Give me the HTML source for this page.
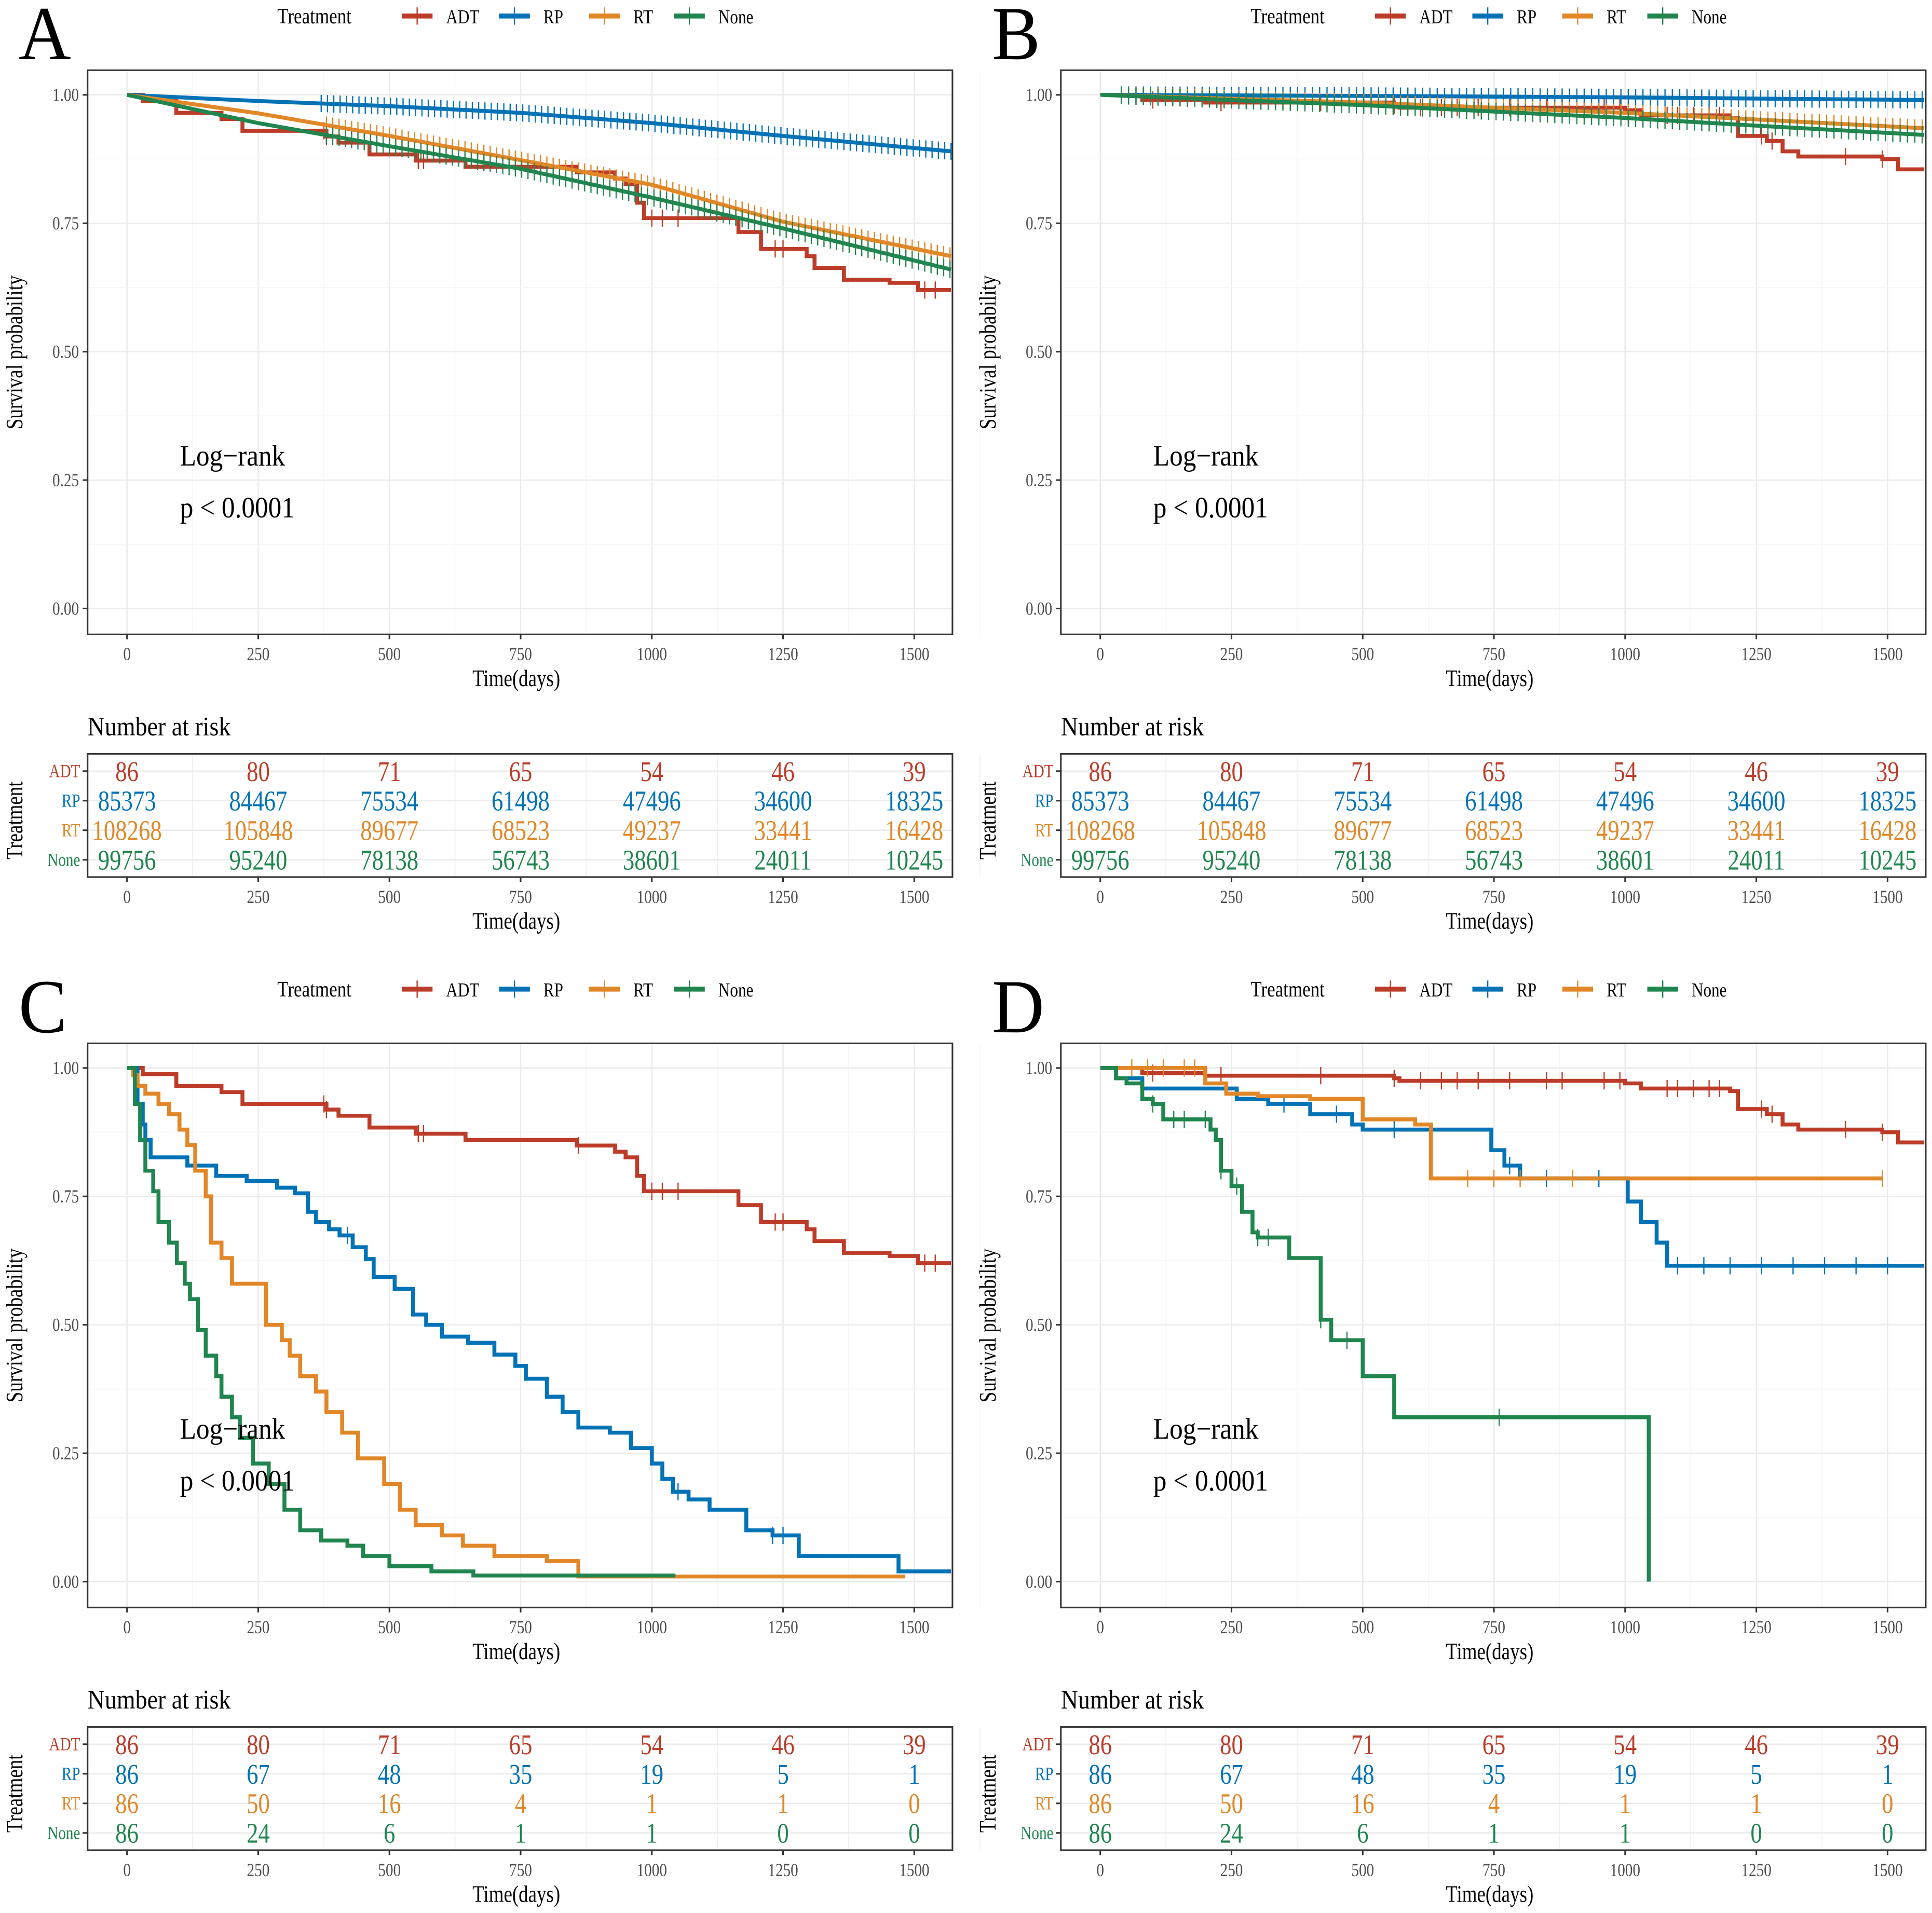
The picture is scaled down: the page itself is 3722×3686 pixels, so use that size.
<!DOCTYPE html>
<html><head><meta charset="utf-8"><style>
html,body{margin:0;padding:0;background:#fff}
svg{display:block}
text{font-family:"Liberation Serif",serif}
</style></head><body>
<svg id="fig" width="3722" height="3686" viewBox="0 0 1568 1553" xmlns="http://www.w3.org/2000/svg"></svg>
<script>
const COLORS={ADT:'#BC3C29',RP:'#0072B5',RT:'#E18727',None:'#20854E'};
const GROUPS=['ADT','RP','RT','None'];
const xTicks=[0,250,500,750,1000,1250,1500];
const yTicks=[0,0.25,0.5,0.75,1];
const yTickLabels=['0.00','0.25','0.50','0.75','1.00'];

// Panel A curves
const A_ADT_t=[0,30,94,180,220,380,403,462,550,645,857,930,950,972,985,1165,1208,1295,1310,1366,1453,1507,1570];
const A_ADT_s=[1,0.988,0.965,0.953,0.93,0.919,0.907,0.884,0.872,0.86,0.849,0.837,0.826,0.79,0.76,0.733,0.70,0.686,0.663,0.64,0.634,0.62,0.62];
const A_RP_t=[0,250,500,750,1000,1250,1570];
const A_RP_s=[1,0.988,0.978,0.965,0.945,0.92,0.89];
const A_RT_t=[0,250,500,750,1000,1250,1570];
const A_RT_s=[1,0.964,0.92,0.873,0.825,0.753,0.686];
const A_None_t=[0,250,500,750,1000,1250,1570];
const A_None_s=[1,0.945,0.90,0.856,0.80,0.74,0.66];
// Panel B curves
const B_ADT_t=[0,80,200,560,570,1000,1030,1200,1215,1270,1300,1330,1490,1520,1570];
const B_ADT_s=[1,0.99,0.985,0.98,0.975,0.97,0.96,0.955,0.92,0.91,0.89,0.88,0.875,0.855,0.855];
const B_RP_t=[0,500,1000,1570];
const B_RP_s=[1,0.998,0.995,0.99];
const B_RT_t=[0,500,1000,1250,1570];
const B_RT_s=[1,0.985,0.965,0.952,0.935];
const B_None_t=[0,500,1000,1250,1570];
const B_None_s=[1,0.98,0.955,0.94,0.922];
// Panel C curves
const C_RP_t=[0,20,30,35,45,115,170,228,286,320,345,360,385,405,430,455,470,510,545,570,600,650,700,740,760,800,830,860,920,960,1000,1020,1040,1070,1110,1180,1230,1280,1470,1570];
const C_RP_s=[1,0.93,0.89,0.86,0.826,0.81,0.79,0.78,0.767,0.756,0.72,0.70,0.686,0.674,0.651,0.628,0.593,0.57,0.52,0.50,0.477,0.465,0.442,0.42,0.395,0.36,0.33,0.30,0.29,0.26,0.23,0.20,0.175,0.16,0.14,0.10,0.09,0.05,0.02,0.02];
const C_RT_t=[0,12,20,35,60,80,100,115,130,150,160,180,200,230,265,295,310,330,360,380,410,440,490,520,550,600,640,700,800,860,1483];
const C_RT_s=[1,0.986,0.965,0.95,0.93,0.91,0.88,0.85,0.80,0.75,0.66,0.63,0.58,0.58,0.50,0.47,0.44,0.40,0.37,0.33,0.29,0.24,0.19,0.14,0.11,0.09,0.07,0.05,0.04,0.01,0.01];
const C_None_t=[0,15,25,35,50,60,80,95,110,120,135,150,170,180,200,215,240,270,300,330,370,420,450,500,580,660,1045];
const C_None_s=[1,0.93,0.86,0.80,0.76,0.70,0.66,0.62,0.58,0.55,0.49,0.44,0.40,0.36,0.32,0.28,0.23,0.19,0.14,0.10,0.08,0.07,0.05,0.03,0.02,0.012,0.012];
// Panel D curves
const D_RP_t=[0,30,80,260,320,400,480,500,745,770,800,1005,1030,1060,1080,1570];
const D_RP_s=[1,0.98,0.96,0.94,0.93,0.91,0.89,0.88,0.84,0.81,0.785,0.74,0.70,0.66,0.615,0.615];
const D_RT_t=[0,200,240,300,400,500,600,630,1490];
const D_RT_s=[1,0.97,0.95,0.945,0.94,0.90,0.89,0.785,0.785];
const D_None_t=[0,30,50,80,100,120,210,220,230,250,270,290,300,360,420,440,500,560,1045,1045];
const D_None_s=[1,0.98,0.97,0.94,0.93,0.90,0.88,0.86,0.80,0.77,0.72,0.68,0.67,0.63,0.51,0.47,0.40,0.32,0.32,0];

// censor tick times
const C_ADT_c=[375,380,555,565,860,1000,1020,1050,1235,1250,1520,1540];
const C_RP_c=[420,1050,1230,1250];
const D_ADT_c=[100,230,420,560,610,650,680,720,780,850,880,960,990,1080,1100,1130,1160,1180,1260,1280,1420,1490];
const D_RP_c=[350,450,560,780,850,900,950,1100,1150,1200,1260,1320,1380,1440,1500];
const D_RT_c=[60,90,120,160,180,700,750,800,900,1490];
const D_None_c=[100,140,160,200,230,260,300,320,420,470,760];
// dense censoring windows [start,end,spacing] for large-cohort panels
const A_RP_cr=[370,1570,12];
const A_RT_cr=[380,1570,12];
const A_None_cr=[380,1570,12];
const B_RP_cr=[40,1570,14];
const B_RT_cr=[40,1570,14];
const B_None_cr=[40,1570,14];

const riskAB={ADT:['86','80','71','65','54','46','39'],RP:['85373','84467','75534','61498','47496','34600','18325'],RT:['108268','105848','89677','68523','49237','33441','16428'],None:['99756','95240','78138','56743','38601','24011','10245']};
const riskCD={ADT:['86','80','71','65','54','46','39'],RP:['86','67','48','35','19','5','1'],RT:['86','50','16','4','1','1','0'],None:['86','24','6','1','1','0','0']};

const svg=document.getElementById('fig');
const NS='http://www.w3.org/2000/svg';
function el(tag,attrs,parent){const e=document.createElementNS(NS,tag);for(const k in attrs)e.setAttribute(k,attrs[k]);(parent||svg).appendChild(e);return e;}
function txt(x,y,s,size,fill,anchor,parent,sx){const g=el('g',{transform:`translate(${x},${y}) scale(${sx||0.82},1)`},parent);const t=el('text',{x:0,y:0,'font-size':size,fill:fill,'text-anchor':anchor||'start'},g);t.textContent=s;return t;}

function panel(ox,oy,letter,curves,censor,ranges,risk){
  const g=el('g',{transform:`translate(${ox},${oy})`});
  
  
  const L=71,R=773,T=57,B=515;
  const xs=t=>103+t*639/1500;
  const ys=s=>494-s*417;
  // letter
  const lt=txt(15,48,letter,62,'#000','start',g,0.95);
  
  
  // legend
  const lg=el('g',{},g);
  
  
  txt(225,19,'Treatment',18,'#000','start',lg);
  const lx=[326,405,478,547];
  GROUPS.forEach((k,i)=>{
    const e=el('g',{},lg);
    
    
    el('line',{x1:lx[i],x2:lx[i]+25,y1:13,y2:13,stroke:COLORS[k],'stroke-width':4},e);
    el('line',{x1:lx[i]+12.5,x2:lx[i]+12.5,y1:6,y2:20,stroke:COLORS[k],'stroke-width':1},e);
    txt(lx[i]+36,19,k,16,'#000','start',e);
  });
  // plot area
  el('rect',{x:L,y:T,width:R-L,height:B-T,fill:'#fff'},g);
  const grid=el('g',{},g);
  
  
  xTicks.forEach(t=>{el('line',{x1:xs(t),x2:xs(t),y1:T,y2:B,stroke:'#EBEBEB','stroke-width':1.1},grid);el('line',{x1:xs(t+125),x2:xs(t+125),y1:T,y2:B,stroke:'#F4F4F4','stroke-width':0.6},grid);});
  yTicks.forEach(s=>{el('line',{x1:L,x2:R,y1:ys(s),y2:ys(s),stroke:'#EBEBEB','stroke-width':1.1},grid);if(s<1)el('line',{x1:L,x2:R,y1:ys(s+0.125),y2:ys(s+0.125),stroke:'#F4F4F4','stroke-width':0.6},grid);});
  const cl='clip'+letter;
  const cp=el('clipPath',{id:cl},g);el('rect',{x:L,y:T,width:R-L,height:B-T},cp);
  const cg=el('g',{'clip-path':`url(#${cl})`},g);
  GROUPS.forEach(k=>{
    const c=curves[k];if(!c)return;
    const [tt,ss,step]=c;
    let d=`M${xs(tt[0])},${ys(ss[0])}`;
    for(let i=1;i<tt.length;i++){
      if(step)d+=`L${xs(tt[i])},${ys(ss[i-1])}L${xs(tt[i])},${ys(ss[i])}`;
      else d+=`L${xs(tt[i])},${ys(ss[i])}`;
    }
    const sg=el('g',{},cg);
    
    
    const p=el('path',{d:d,fill:'none',stroke:COLORS[k],'stroke-width':3.2,'stroke-linejoin':'miter'},sg);
    const sAt=t=>{let v=ss[0];for(let i=0;i<tt.length;i++){if(tt[i]<=t){if(step)v=ss[i];else if(i<tt.length-1&&t<tt[i+1]){v=ss[i]+(ss[i+1]-ss[i])*(t-tt[i])/(tt[i+1]-tt[i]);}else v=ss[i];}}return v;};
    const times=[];
    if(censor[k])censor[k].forEach(t=>times.push(t));
    if(ranges[k]){const [a,b,sp]=ranges[k];for(let t=a;t<=b;t+=sp)times.push(t);}
    times.forEach(t=>{const y=ys(sAt(t));el('line',{x1:xs(t),x2:xs(t),y1:y-7,y2:y+7,stroke:COLORS[k],'stroke-width':1},sg);});
  });
  el('rect',{x:L,y:T,width:R-L,height:B-T,fill:'none',stroke:'#333','stroke-width':1.3},g);
  // axes ticks
  const ax=el('g',{},g);
  
  
  xTicks.forEach(t=>{el('line',{x1:xs(t),x2:xs(t),y1:B,y2:B+4,stroke:'#333','stroke-width':1.3},ax);txt(xs(t),B+21,String(t),15,'#4D4D4D','middle',ax);});
  txt(419,B+42,'Time(days)',19,'#000','middle',ax);
  const ay=el('g',{},g);
  
  
  yTicks.forEach((s,i)=>{el('line',{x1:L-4,x2:L,y1:ys(s),y2:ys(s),stroke:'#333','stroke-width':1.3},ay);txt(L-7,ys(s)+5,yTickLabels[i],15,'#4D4D4D','end',ay);});
  const yt=el('g',{transform:'translate(18,286) rotate(-90)'},ay);
  txt(0,0,'Survival probability',19,'#000','middle',yt);
  const lr=el('g',{},g);
  
  
  txt(146,378,'Log\u2212rank',24,'#000','start',lr,0.9);
  txt(146,420,'p < 0.0001',24,'#000','start',lr,0.9);
  // risk table
  const rt=el('g',{},g);
  
  
  txt(71,597,'Number at risk',22,'#000','start',rt,0.88);
  const RT_T=612,RT_B=712;
  el('rect',{x:L,y:RT_T,width:R-L,height:RT_B-RT_T,fill:'#fff'},rt);
  xTicks.forEach(t=>{el('line',{x1:xs(t+125),x2:xs(t+125),y1:RT_T,y2:RT_B,stroke:'#F2F2F2','stroke-width':0.8},rt);});
  const rows=[626,650,674,698];
  rows.forEach(y=>el('line',{x1:L,x2:R,y1:y,y2:y,stroke:'#EBEBEB','stroke-width':1.1},rt));
  GROUPS.forEach((k,i)=>{
    el('line',{x1:L-4,x2:L,y1:rows[i],y2:rows[i],stroke:'#333','stroke-width':1.3},rt);
    txt(L-6,rows[i]+5,k,15,COLORS[k],'end',rt);
    risk[k].forEach((v,j)=>{const tt=txt(xs(xTicks[j]),rows[i]+8,v,23,COLORS[k],'middle',rt);});
  });
  el('rect',{x:L,y:RT_T,width:R-L,height:RT_B-RT_T,fill:'none',stroke:'#333','stroke-width':1.3},rt);
  xTicks.forEach(t=>{el('line',{x1:xs(t),x2:xs(t),y1:RT_B,y2:RT_B+4,stroke:'#333','stroke-width':1.3},rt);txt(xs(t),RT_B+21,String(t),15,'#4D4D4D','middle',rt);});
  txt(419,RT_B+42,'Time(days)',19,'#000','middle',rt);
  const tg=el('g',{transform:'translate(18,666) rotate(-90)'},rt);
  txt(0,0,'Treatment',19,'#000','middle',tg);
}

panel(0,0,'A',{ADT:[A_ADT_t,A_ADT_s,true],RP:[A_RP_t,A_RP_s,false],RT:[A_RT_t,A_RT_s,false],None:[A_None_t,A_None_s,false]},{ADT:C_ADT_c},{RP:A_RP_cr,RT:A_RT_cr,None:A_None_cr},riskAB);
panel(790,0,'B',{ADT:[B_ADT_t,B_ADT_s,true],RP:[B_RP_t,B_RP_s,false],RT:[B_RT_t,B_RT_s,false],None:[B_None_t,B_None_s,false]},{ADT:D_ADT_c},{RP:B_RP_cr,RT:B_RT_cr,None:B_None_cr},riskAB);
panel(0,790,'C',{ADT:[A_ADT_t,A_ADT_s,true],RP:[C_RP_t,C_RP_s,true],RT:[C_RT_t,C_RT_s,true],None:[C_None_t,C_None_s,true]},{ADT:C_ADT_c,RP:C_RP_c},{},riskCD);
panel(790,790,'D',{ADT:[B_ADT_t,B_ADT_s,true],RP:[D_RP_t,D_RP_s,true],RT:[D_RT_t,D_RT_s,true],None:[D_None_t,D_None_s,true]},{ADT:D_ADT_c,RP:D_RP_c,RT:D_RT_c,None:D_None_c},{},riskCD);
</script>
</body></html>
